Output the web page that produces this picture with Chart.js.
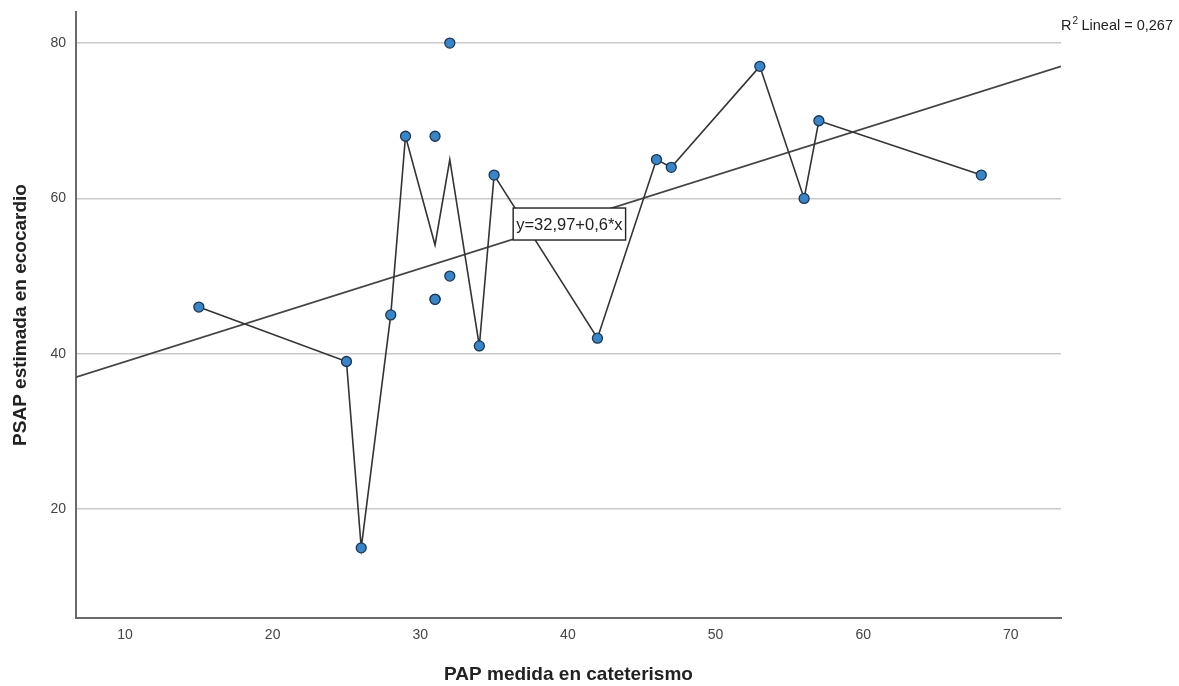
<!DOCTYPE html>
<html lang="es">
<head>
    <meta charset="UTF-8">
    <title>PSAP vs PAP</title>
    <script src="https://cdn.jsdelivr.net/npm/chart.js"></script>
    <style>
        html, body { margin: 0; padding: 0; background: #fff; }
        #wrap { width: 1179px; height: 686px; }
    </style>
</head>
<body>
    <div id="wrap"><canvas id="scatter"></canvas></div>
    <script>
        // PAP medida en cateterismo (x) y PSAP estimada en ecocardio (y)
        const papCateterismo = [15, 25, 26, 28, 29, 31, 31, 31, 32, 32, 34, 35, 42, 46, 47, 53, 56, 57, 68];
        const psapEcocardio  = [46, 39, 15, 45, 68, 68, 47, 47, 80, 50, 41, 63, 42, 65, 64, 77, 60, 70, 63];
        const xTicks = [10, 20, 30, 40, 50, 60, 70];
        const yTicks = [20, 40, 60, 80];
        const intercepto = 32.97;
        const pendiente = 0.6;
        const r2Texto = 'Lineal = 0,267';
        const ecuacion = 'y=32,97+0,6*x';

        const X_MIN = 6.68, X_MAX = 73.4, Y_MIN = 5.97, Y_MAX = 84;

        const puntos = papCateterismo.map((x, i) => ({ x: x, y: psapEcocardio[i] }));

        // linea de medias por valor de x
        const grupos = {};
        puntos.forEach(p => { (grupos[p.x] = grupos[p.x] || []).push(p.y); });
        const medias = Object.keys(grupos).map(Number).sort((a, b) => a - b)
            .map(x => ({ x: x, y: grupos[x].reduce((s, v) => s + v, 0) / grupos[x].length }));

        const regresion = [X_MIN, X_MAX].map(x => ({ x: x, y: intercepto + pendiente * x }));

        const anotaciones = {
            id: 'anotaciones',
            afterDatasetsDraw(chart) {
                const ctx = chart.ctx;
                const xs = chart.scales.x, ys = chart.scales.y;
                // caja con la ecuacion
                ctx.save();
                ctx.font = '16.5px "Liberation Sans", Arial, sans-serif';
                const w = ctx.measureText(ecuacion).width + 6;
                const cx = xs.getPixelForValue(40.1), cy = ys.getPixelForValue(56.7);
                ctx.fillStyle = '#fff';
                ctx.fillRect(cx - w / 2, cy - 16, w, 32);
                ctx.strokeStyle = '#222';
                ctx.lineWidth = 1.4;
                ctx.strokeRect(cx - w / 2, cy - 16, w, 32);
                ctx.fillStyle = '#222';
                ctx.textAlign = 'center';
                ctx.textBaseline = 'middle';
                ctx.fillText(ecuacion, cx, cy + 1);

                // R2 arriba a la derecha
                const rx = chart.chartArea.right, ry = 30;
                ctx.textAlign = 'left';
                ctx.textBaseline = 'alphabetic';
                ctx.font = '14.5px "Liberation Sans", Arial, sans-serif';
                ctx.fillText('R', rx, ry);
                const rw = ctx.measureText('R').width;
                ctx.font = '10px "Liberation Sans", Arial, sans-serif';
                ctx.fillText('2', rx + rw + 1, ry - 6);
                ctx.font = '14.5px "Liberation Sans", Arial, sans-serif';
                ctx.fillText(r2Texto, rx + rw + 10, ry);
                ctx.restore();
            }
        };

        const ctx = document.getElementById('scatter').getContext('2d');
        new Chart(ctx, {
            type: 'scatter',
            data: {
                datasets: [
                    {
                        label: 'Datos',
                        data: puntos,
                        pointRadius: 5,
                        pointBackgroundColor: '#3686cc',
                        pointBorderColor: '#1e3550',
                        pointBorderWidth: 1.3
                    },
                    {
                        label: 'Medias',
                        data: medias,
                        showLine: true,
                        pointRadius: 0,
                        borderColor: '#333',
                        borderWidth: 1.6
                    },
                    {
                        label: 'Ajuste lineal',
                        data: regresion,
                        showLine: true,
                        pointRadius: 0,
                        borderColor: '#444',
                        borderWidth: 1.8
                    }
                ]
            },
            options: {
                responsive: true,
                maintainAspectRatio: false,
                animation: false,
                layout: { padding: { top: 12, right: 118, left: 0, bottom: 0 } },
                plugins: { legend: { display: false }, tooltip: { enabled: false } },
                scales: {
                    x: {
                        type: 'linear',
                        min: X_MIN,
                        max: X_MAX,
                        afterBuildTicks: s => { s.ticks = xTicks.map(v => ({ value: v })); },
                        afterFit: s => { s.height = 68; s.paddingLeft = 0; s.paddingRight = 0; },
                        grid: { display: false, drawTicks: false },
                        border: { display: true, color: '#6a6a6a', width: 2 },
                        ticks: {
                            padding: 9,
                            color: '#444',
                            font: { family: '"Liberation Sans", Arial, sans-serif', size: 14 }
                        },
                        title: {
                            display: true,
                            text: 'PAP medida en cateterismo',
                            color: '#222',
                            padding: { top: 0, bottom: 0 },
                            font: { family: '"Liberation Sans", Arial, sans-serif', size: 19, weight: 'bold' }
                        }
                    },
                    y: {
                        type: 'linear',
                        min: Y_MIN,
                        max: Y_MAX,
                        afterBuildTicks: s => { s.ticks = yTicks.map(v => ({ value: v })); },
                        afterFit: s => { s.width = 76; s.paddingTop = 0; s.paddingBottom = 0; },
                        grid: { color: '#c9c9c9', lineWidth: 1.6, drawTicks: false },
                        border: { display: true, color: '#6a6a6a', width: 2 },
                        ticks: {
                            padding: 10,
                            color: '#444',
                            font: { family: '"Liberation Sans", Arial, sans-serif', size: 14 }
                        },
                        title: {
                            display: true,
                            text: 'PSAP estimada en ecocardio',
                            color: '#222',
                            padding: { top: 9, bottom: 0 },
                            font: { family: '"Liberation Sans", Arial, sans-serif', size: 19, weight: 'bold' }
                        }
                    }
                }
            },
            plugins: [anotaciones]
        });
    </script>
</body>
</html>
